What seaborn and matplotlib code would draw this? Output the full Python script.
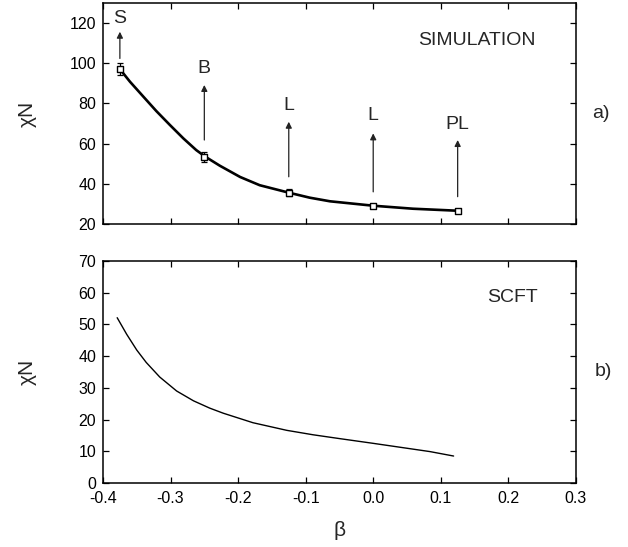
import matplotlib
matplotlib.use('Agg')
import matplotlib.pyplot as plt
import seaborn as sns
import pandas as pd

# simulation data points (beta, chiN, error)
sim_beta = [-0.375, -0.25, -0.125, 0.0, 0.125]
sim_chin = [97.0, 53.5, 35.5, 29.1, 26.6]
sim_err = [3.0, 2.5, 1.7, 0.0, 0.0]

# smooth curve through the simulation points
fit_beta = [-0.375, -0.360, -0.340, -0.321, -0.301, -0.281, -0.262, -0.249,
            -0.227, -0.197, -0.168, -0.125, -0.094, -0.064, 0.0, 0.059, 0.125]
fit_chin = [97.1, 90.8, 83.3, 76.2, 69.3, 62.6, 56.8, 53.6,
            49.0, 43.4, 39.3, 35.6, 33.1, 31.3, 29.1, 27.6, 26.6]

# phase labels with arrows
phase_labels = ['S', 'B', 'L', 'L', 'PL']
arrow_start = [102.4, 61.8, 43.5, 36.0, 33.6]
arrow_end = [115.7, 89.2, 70.9, 65.1, 61.8]
label_y = [122.5, 97.6, 79.0, 74.2, 69.3]

# SCFT curve
scft_beta = [-0.379, -0.365, -0.350, -0.336, -0.316, -0.291, -0.266, -0.242,
             -0.222, -0.178, -0.128, -0.089, -0.050, 0.0, 0.084, 0.119]
scft_chin = [52.1, 46.9, 41.9, 38.0, 33.4, 29.0, 25.9, 23.6,
             22.0, 19.0, 16.6, 15.2, 14.0, 12.5, 9.9, 8.5]

xticks = [-0.4, -0.3, -0.2, -0.1, 0.0, 0.1, 0.2, 0.3]
xticklabels = ['-0.4', '-0.3', '-0.2', '-0.1', '0.0', '0.1', '0.2', '0.3']

sns.set_style('ticks')
plt.rcParams['font.family'] = ['Liberation Sans', 'DejaVu Sans']

fig = plt.figure(figsize=(6.28, 5.47), dpi=100)
ax1 = fig.add_axes([0.164, 0.5905, 0.753, 0.404])
ax2 = fig.add_axes([0.164, 0.117, 0.753, 0.406])

fit_df = pd.DataFrame({'beta': fit_beta, 'chiN': fit_chin})
sns.lineplot(data=fit_df, x='beta', y='chiN', ax=ax1, color='black', lw=1.9, sort=False)
ax1.errorbar(sim_beta, sim_chin, yerr=sim_err, fmt='none', ecolor='black',
             elinewidth=0.9, capsize=2.5, capthick=0.9, zorder=3)
sns.scatterplot(x=sim_beta, y=sim_chin, ax=ax1, marker='s', s=22,
                facecolor='white', edgecolor='black', linewidth=1.0, zorder=4)

for b, lab, y0, y1, yl in zip(sim_beta, phase_labels, arrow_start, arrow_end, label_y):
    ax1.annotate('', xy=(b, y1), xytext=(b, y0),
                 arrowprops=dict(arrowstyle='-|>', color='#222222', lw=0.9,
                                 mutation_scale=9, shrinkA=0, shrinkB=0))
    ax1.text(b, yl, lab, ha='center', va='center', fontsize=14)

ax1.text(0.153, 111.5, 'SIMULATION', ha='center', va='center', fontsize=14)
ax1.text(1.034, 0.5, 'a)', transform=ax1.transAxes, ha='left', va='center', fontsize=14)

ax1.set_xlim(-0.4, 0.3)
ax1.set_ylim(20, 130)
ax1.set_xticks(xticks)
ax1.set_xticklabels([])
ax1.set_yticks([20, 40, 60, 80, 100, 120])
ax1.set_xlabel('')
ax1.set_ylabel('\u03c7N', fontsize=15)
ax1.yaxis.set_label_coords(-0.14, 0.5)

scft_df = pd.DataFrame({'beta': scft_beta, 'chiN': scft_chin})
sns.lineplot(data=scft_df, x='beta', y='chiN', ax=ax2, color='black', lw=1.0, sort=False)
ax2.text(0.206, 58.6, 'SCFT', ha='center', va='center', fontsize=14)
ax2.text(1.04, 0.5, 'b)', transform=ax2.transAxes, ha='left', va='center', fontsize=14)

ax2.set_xlim(-0.4, 0.3)
ax2.set_ylim(0, 70)
ax2.set_xticks(xticks)
ax2.set_xticklabels(xticklabels)
ax2.set_yticks([0, 10, 20, 30, 40, 50, 60, 70])
ax2.set_xlabel('\u03b2', fontsize=15)
ax2.xaxis.set_label_coords(0.5, -0.17)
ax2.set_ylabel('\u03c7N', fontsize=15)
ax2.yaxis.set_label_coords(-0.14, 0.5)

for ax in (ax1, ax2):
    for sp in ax.spines.values():
        sp.set_visible(True)
        sp.set_linewidth(1.1)
        sp.set_color('black')
    ax.tick_params(direction='in', length=4, width=0.9, top=True, right=True,
                   labelsize=11.5, colors='black')
    ax.tick_params(axis='y', pad=5)
    ax.tick_params(axis='x', pad=6)

fig.savefig('out.png', dpi=100)
